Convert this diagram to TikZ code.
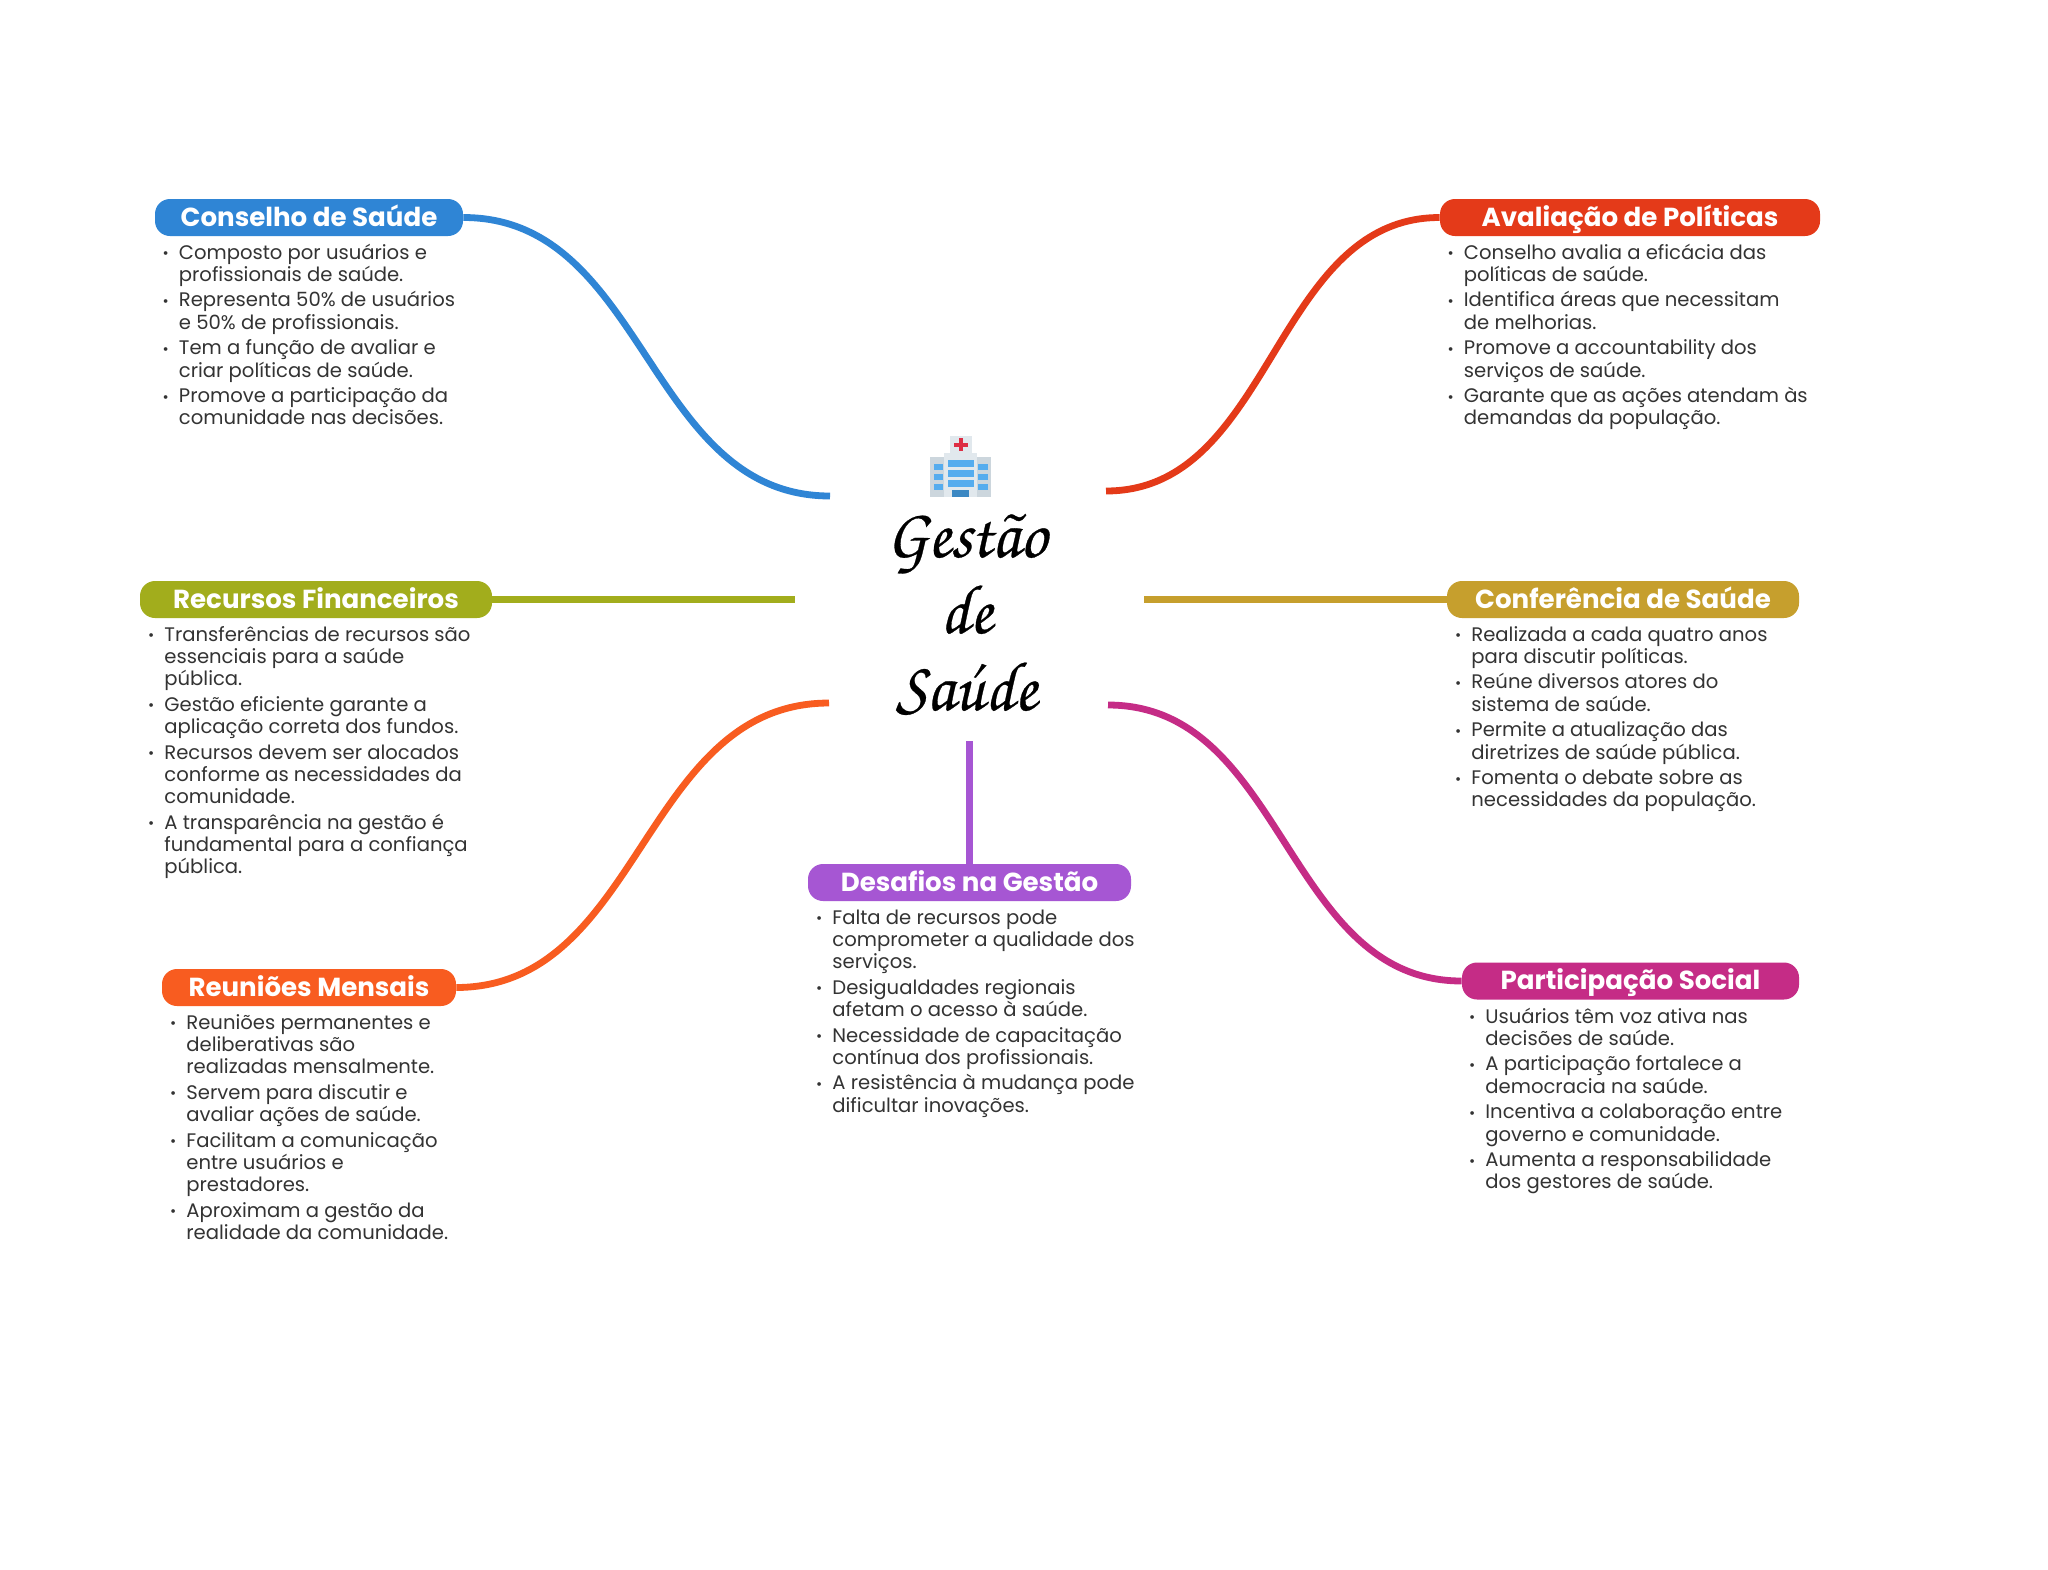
\documentclass[tikz,border=0pt]{standalone}
\usepackage{fontspec}
\setmainfont{Poppins}
\newfontfamily\ttlfont[FakeStretch=0.95,FakeBold=0.4]{TeX Gyre Chorus}
\definecolor{cblue}{HTML}{2F85D5}
\definecolor{cred}{HTML}{E43A19}
\definecolor{colive}{HTML}{A2AD1C}
\definecolor{cgold}{HTML}{C69F2D}
\definecolor{corange}{HTML}{F85C20}
\definecolor{cpurple}{HTML}{A656D3}
\definecolor{cmag}{HTML}{C52C86}
\definecolor{ctxt}{HTML}{333333}
\definecolor{igrey}{HTML}{CCD6DD}
\definecolor{ilight}{HTML}{E1E8ED}
\definecolor{iwin}{HTML}{55ACEE}
\definecolor{idoor}{HTML}{3B88C3}
\definecolor{icross}{HTML}{DD2E44}
\newcommand{\Bu}[1]{\hbox{\llap{\raisebox{0.1pt}{\fontsize{7.5}{7.5}\selectfont •}\kern5pt}#1}}
\newcommand{\Li}[1]{\hbox{#1}}
\newcommand{\Gp}{\vskip 1.75pt}
\newcommand{\Blist}[1]{\vtop{\baselineskip=11.1pt\lineskiplimit=-20pt\fontsize{9.8}{11.1}\selectfont #1}}
\tikzset{
  pill/.style={fill=#1,rounded corners=7.5pt,inner sep=0pt,text=white,
    font=\fontsize{13.05}{13}\selectfont\bfseries,text height=10pt,text depth=1.5pt,minimum height=18.5pt},
  blist/.style={anchor=base west,inner sep=0pt,text=ctxt},
  conn/.style={line width=3.4pt,draw=#1},
  ttl/.style={inner sep=0pt,anchor=base,font=\fontsize{35}{35}\selectfont\ttlfont,text=black}
}
\begin{document}
\begin{tikzpicture}[x=0.5pt,y=-0.5pt]
\useasboundingbox (0,0) rectangle (2048,1569);
\fill[white] (0,0) rectangle (2048,1569);
% hospital icon
\fill[igrey] (930,457) rectangle (991,497);
\fill[ilight] (950,436) rectangle (972,453);
\fill[ilight] (944,453) rectangle (977,497);
\fill[icross] (954,442.5) rectangle (967.5,446.5);
\fill[icross] (958.7,437.5) rectangle (962.7,451);
\foreach \y in {460,470,480}{\fill[iwin] (948,\y) rectangle (974,\y+7);}
\foreach \y in {463.5,473.5,483.5}{
  \fill[iwin] (934,\y) rectangle (943,\y+6.5);
  \fill[iwin] (978,\y) rectangle (988,\y+6.5);}
\fill[idoor] (952,490) rectangle (969,497);
% title
\node[ttl] (t1) at (966.5,557) {Gestão};
\node[ttl] (t2) at (966.5,633) {de};
\node[ttl] (t3) at (966.5,710) {Saúde};
% branches
\node[pill=cblue,minimum width=154pt] (p1) at (309,217.5) {Conselho de Saúde};
\node[pill=cred,minimum width=190pt] (p2) at (1630,217.5) {Avaliação de Políticas};
\node[pill=colive,minimum width=176pt] (p3) at (316,599.5) {Recursos Financeiros};
\node[pill=cgold,minimum width=176pt] (p4) at (1623,599.5) {Conferência de Saúde};
\node[pill=corange,minimum width=147pt] (p5) at (309,987.5) {Reuniões Mensais};
\node[pill=cpurple,minimum width=161.5pt] (p6) at (969.5,882.5) {Desafios na Gestão};
\node[pill=cmag,minimum width=168.5pt] (p7) at (1630.5,981) {Participação Social};
% connector free ends
\coordinate (e1) at (830,496);
\coordinate (e2) at (1106,491);
\coordinate (e3) at (795,599.5);
\coordinate (e4) at (1144,599.5);
\coordinate (e5) at (829,703);
\coordinate (e6) at (969.5,741);
\coordinate (e7) at (1108,705);
\draw[conn=cblue] (p1.east) .. controls (646,217.5) and (647,496) .. (e1);
\draw[conn=cred] (e2) .. controls (1273,491) and (1273,217.5) .. (p2.west);
\draw[conn=colive] (p3.east) -- (e3);
\draw[conn=cgold] (e4) -- (p4.west);
\draw[conn=corange] (p5.east) .. controls (642,987) and (642,703) .. (e5);
\draw[conn=cpurple] (e6) -- (p6.north);
\draw[conn=cmag] (e7) .. controls (1285,705) and (1285,981) .. (p7.west);
% lists
\node[blist] (l1) at (178.5,259) {\Blist{\Bu{Composto por usuários e}\Li{profissionais de saúde.}\Gp
\Bu{Representa 50\% de usuários}\Li{e 50\% de profissionais.}\Gp
\Bu{Tem a função de avaliar e}\Li{criar políticas de saúde.}\Gp
\Bu{Promove a participação da}\Li{comunidade nas decisões.}}};
\node[blist] (l2) at (1463.5,259) {\Blist{\Bu{Conselho avalia a eficácia das}\Li{políticas de saúde.}\Gp
\Bu{Identifica áreas que necessitam}\Li{de melhorias.}\Gp
\Bu{Promove a accountability dos}\Li{serviços de saúde.}\Gp
\Bu{Garante que as ações atendam às}\Li{demandas da população.}}};
\node[blist] (l3) at (164,641) {\Blist{\Bu{Transferências de recursos são}\Li{essenciais para a saúde}\Li{pública.}\Gp
\Bu{Gestão eficiente garante a}\Li{aplicação correta dos fundos.}\Gp
\Bu{Recursos devem ser alocados}\Li{conforme as necessidades da}\Li{comunidade.}\Gp
\Bu{A transparência na gestão é}\Li{fundamental para a confiança}\Li{pública.}}};
\node[blist] (l4) at (1471,641) {\Blist{\Bu{Realizada a cada quatro anos}\Li{para discutir políticas.}\Gp
\Bu{Reúne diversos atores do}\Li{sistema de saúde.}\Gp
\Bu{Permite a atualização das}\Li{diretrizes de saúde pública.}\Gp
\Bu{Fomenta o debate sobre as}\Li{necessidades da população.}}};
\node[blist] (l5) at (186,1029) {\Blist{\Bu{Reuniões permanentes e}\Li{deliberativas são}\Li{realizadas mensalmente.}\Gp
\Bu{Servem para discutir e}\Li{avaliar ações de saúde.}\Gp
\Bu{Facilitam a comunicação}\Li{entre usuários e}\Li{prestadores.}\Gp
\Bu{Aproximam a gestão da}\Li{realidade da comunidade.}}};
\node[blist] (l6) at (832,924) {\Blist{\Bu{Falta de recursos pode}\Li{comprometer a qualidade dos}\Li{serviços.}\Gp
\Bu{Desigualdades regionais}\Li{afetam o acesso à saúde.}\Gp
\Bu{Necessidade de capacitação}\Li{contínua dos profissionais.}\Gp
\Bu{A resistência à mudança pode}\Li{dificultar inovações.}}};
\node[blist] (l7) at (1485,1023) {\Blist{\Bu{Usuários têm voz ativa nas}\Li{decisões de saúde.}\Gp
\Bu{A participação fortalece a}\Li{democracia na saúde.}\Gp
\Bu{Incentiva a colaboração entre}\Li{governo e comunidade.}\Gp
\Bu{Aumenta a responsabilidade}\Li{dos gestores de saúde.}}};
\end{tikzpicture}
\end{document}
